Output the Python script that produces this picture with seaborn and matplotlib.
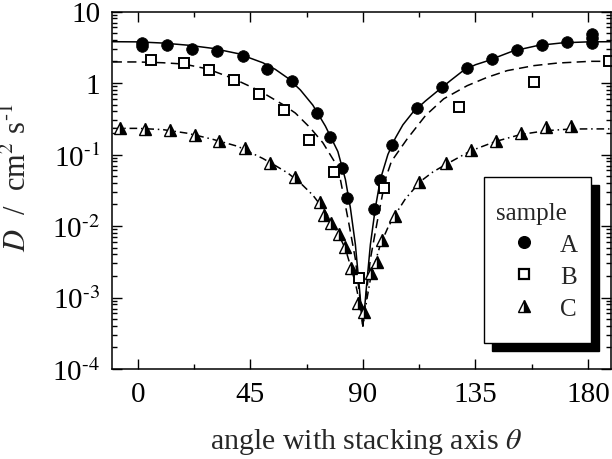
import numpy as np
import pandas as pd
import matplotlib
matplotlib.use("Agg")
import matplotlib.pyplot as plt
import seaborn as sns
from matplotlib.lines import Line2D
from matplotlib.patches import Rectangle
from matplotlib.ticker import MultipleLocator, LogLocator, FuncFormatter, NullFormatter

# measured points (angle in degrees, D in cm^2/s)
theta_a = [1.8, 1.8, 11.8, 21.7, 31.6, 41.9, 51.6, 61.6, 71.7, 76.7, 81.6, 83.6,
           94.6, 96.7, 101.7, 111.7, 121.7, 131.7, 141.7, 151.7, 161.7, 171.7,
           181.7, 181.7, 181.7]
d_a = [3.59, 3.24, 3.43, 2.99, 2.83, 2.36, 1.57, 1.06, 0.38, 0.177, 0.065, 0.0244,
       0.0173, 0.044, 0.136, 0.443, 0.871, 1.64, 2.14, 2.92, 3.43, 3.70,
       4.92, 4.26, 3.62]

theta_b = [5.2, 18.5, 28.3, 38.3, 48.6, 58.3, 68.3, 78.3, 88.3, 98.6, 128.3, 158.4, 188.4]
d_b = [2.12, 1.89, 1.52, 1.10, 0.70, 0.419, 0.161, 0.0564, 0.00186, 0.0337, 0.457, 1.04, 2.05]

theta_c = [-7.1, 2.9, 12.7, 22.9, 32.5, 42.8, 53, 63, 73, 74.6, 77.3, 80.3, 83, 85.3,
           87.9, 90.3, 93.3, 95.7, 97.7, 103, 112.6, 123.4, 133.4, 143.4, 153.4,
           163.4, 173.4]
d_c = [0.232, 0.227, 0.220, 0.187, 0.153, 0.122, 0.076, 0.048, 0.0215, 0.0143, 0.0110,
       0.00773, 0.00504, 0.00256, 0.000838, 0.000621, 0.0022, 0.00317, 0.00643,
       0.0139, 0.0412, 0.0753, 0.117, 0.156, 0.20, 0.24, 0.253]

# fitted curves
fit_theta_a = [-10, 0, 10, 20, 30, 40, 50, 55, 60, 65, 70, 75, 80, 83, 85, 87, 88.5,
               89.5, 90, 90.5, 91.5, 93, 95, 97, 100, 103, 106, 110, 115, 120, 125, 130,
               135, 140, 145, 150, 160, 170, 180, 189]
fit_d_a = [3.78, 3.76, 3.62, 3.38, 3.05, 2.58, 1.92, 1.55, 1.17, 0.80, 0.49, 0.25, 0.11,
           0.045, 0.018, 0.0055, 0.0015, 0.0006, 0.0004, 0.0006, 0.0015, 0.0055, 0.018,
           0.045, 0.10, 0.17, 0.26, 0.39, 0.56, 0.78, 1.08, 1.48, 1.80, 2.05, 2.40, 2.80,
           3.35, 3.65, 3.76, 3.78]

fit_theta_b = [-10, 0, 10, 18.5, 28, 38, 48.6, 58, 63, 69, 74, 78.6, 81, 84.3, 87, 88.7,
               90, 91.3, 93, 95.7, 99, 101.4, 107.7, 115, 122.3, 131.7, 139.7, 147.7,
               158.4, 167.7, 181, 189]
fit_d_b = [1.97, 1.97, 1.92, 1.84, 1.57, 1.16, 0.78, 0.50, 0.38, 0.235, 0.146, 0.080,
           0.045, 0.0113, 0.00345, 0.00106, 0.0004, 0.00106, 0.00345, 0.0113, 0.045,
           0.080, 0.165, 0.349, 0.60, 0.917, 1.20, 1.49, 1.75, 1.90, 2.01, 2.01]

fit_theta_c = [-10, 0, 10, 20, 30, 40, 50, 55, 60, 65, 70, 75, 80, 83, 85, 87, 88.5, 90,
               91.5, 93, 95, 97, 100, 103, 107, 113, 118, 123, 133, 143, 153, 163, 173,
               180, 189]
fit_d_c = [0.232, 0.232, 0.223, 0.198, 0.163, 0.13, 0.088, 0.07, 0.055, 0.040, 0.027,
           0.016, 0.0080, 0.0048, 0.0028, 0.0016, 0.0009, 0.0004, 0.0009, 0.0018, 0.0032,
           0.0055, 0.0095, 0.0145, 0.024, 0.042, 0.057, 0.072, 0.112, 0.152, 0.19,
           0.215, 0.227, 0.228, 0.228]

sample_labels = ["A", "B", "C"]

sns.set_style("ticks")
plt.rcParams["font.family"] = ["Liberation Serif", "DejaVu Serif"]
plt.rcParams["mathtext.fontset"] = "stix"

fig = plt.figure(figsize=(6.12, 4.6), dpi=100)
ax = fig.add_axes([112 / 612, 1 - 370 / 460, (610.5 - 112) / 612, (370 - 12.5) / 460])

# fit lines
line_kw = dict(estimator=None, sort=False, color="black", linewidth=1.1, ax=ax, legend=False)
sns.lineplot(x=fit_theta_a, y=fit_d_a, linestyle="-", **line_kw)
sns.lineplot(x=fit_theta_b, y=fit_d_b, linestyle=(0, (6, 3.5)), **line_kw)
sns.lineplot(x=fit_theta_c, y=fit_d_c, linestyle=(0, (5, 2.5, 1, 2.5)), **line_kw)

# measured points
sns.lineplot(x=theta_a, y=d_a, estimator=None, sort=False, ax=ax, legend=False,
             linestyle="", marker="o", markersize=8.4, color="black",
             markerfacecolor="black", markeredgecolor="black", markeredgewidth=0.5)
sns.lineplot(x=theta_b, y=d_b, estimator=None, sort=False, ax=ax, legend=False,
             linestyle="", marker="s", markersize=6.5, color="black",
             markerfacecolor="white", markeredgecolor="black", markeredgewidth=1.4)
sns.lineplot(x=theta_c, y=d_c, estimator=None, sort=False, ax=ax, legend=False,
             linestyle="", marker="^", markersize=8, color="black", fillstyle="right",
             markerfacecolor="black", markerfacecoloralt="white",
             markeredgecolor="black", markeredgewidth=1.0)

ax.set_yscale("log")
ax.set_ylim(1e-4, 10)
ax.set_xlim(-10.3, 189)

ax.xaxis.set_major_locator(MultipleLocator(45))
ax.xaxis.set_minor_locator(MultipleLocator(22.5))
ax.yaxis.set_major_locator(LogLocator(base=10, numticks=10))
ax.yaxis.set_minor_locator(LogLocator(base=10, subs=np.arange(2, 10), numticks=20))
ax.yaxis.set_minor_formatter(NullFormatter())


def fmt_y(v, pos):
    e = int(round(np.log10(v)))
    if e == 1:
        return "10"
    if e == 0:
        return "1"
    return r"10$^{\text{-}%d}$" % abs(e)


ax.yaxis.set_major_formatter(FuncFormatter(fmt_y))

ax.tick_params(which="both", direction="in", top=True, right=True, width=1.0,
               labelsize=21, pad=8.5, color="black", labelcolor="black")
ax.tick_params(which="major", length=7)
ax.tick_params(which="minor", length=3.8)
for sp in ax.spines.values():
    sp.set_linewidth(1.1)
    sp.set_color("black")

ax.set_xlabel(r"angle with stacking axis $\theta$", fontsize=21.5)
ax.xaxis.set_label_coords(0.51, -0.159)
ax.set_ylabel(r"$D$  /  cm$^{2}$ s$^{\text{-}1}$", fontsize=22)
ax.yaxis.set_label_coords(-0.158, 0.537)

# legend box with a solid drop shadow
bx0, bx1 = 0.7462, 0.9599
by0, by1 = 0.0727, 0.5362
dx, dy = 8 / 498.5, 8 / 357.5
ax.add_patch(Rectangle((bx0 + dx, by0 - dy), bx1 - bx0, by1 - by0, transform=ax.transAxes,
                       facecolor="black", edgecolor="black", zorder=5.8, clip_on=False))
ax.add_patch(Rectangle((bx0, by0), bx1 - bx0, by1 - by0, transform=ax.transAxes,
                       facecolor="white", edgecolor="black", linewidth=1.0, zorder=5.9,
                       clip_on=False))

handles = [
    Line2D([], [], linestyle="", marker="o", markersize=8.4, color="black"),
    Line2D([], [], linestyle="", marker="s", markersize=6.5, markerfacecolor="white",
           markeredgecolor="black", markeredgewidth=1.6),
    Line2D([], [], linestyle="", marker="^", markersize=8, fillstyle="right",
           markerfacecolor="black", markerfacecoloralt="white", markeredgecolor="black",
           markeredgewidth=1.0),
]
leg = ax.legend(handles, sample_labels, title="sample", loc="center left",
                bbox_to_anchor=((496 - 112) / 498.5, 1 - (262 - 12.5) / 357.5),
                frameon=False, fontsize=18, title_fontsize=18, alignment="left",
                handlelength=2.24, handletextpad=0.32, labelspacing=0.38,
                borderpad=0, borderaxespad=0)
leg.set_zorder(7)

fig.savefig("out.png", dpi=100)
